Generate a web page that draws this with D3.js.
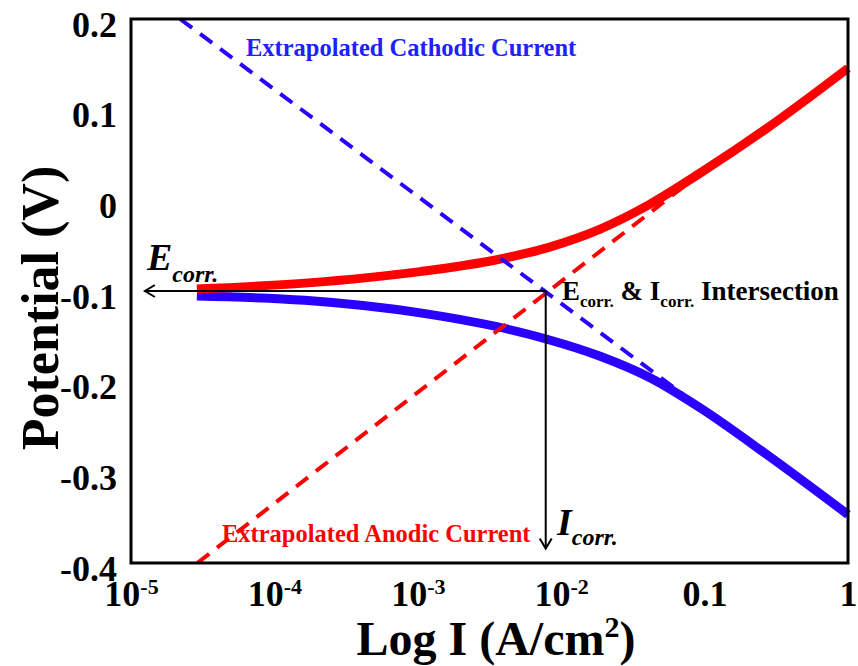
<!DOCTYPE html>
<html>
<head>
<meta charset="utf-8">
<script src="https://cdn.jsdelivr.net/npm/d3@7"></script>
<style>
  html, body { margin: 0; padding: 0; background: #fff; }
  svg { display: block; }
  text { font-family: "Liberation Serif", "Times New Roman", serif; font-weight: bold; }
</style>
</head>
<body>
<svg id="chart" width="858" height="666"></svg>
<script>
// Axis ticks
const currentTicks = [1e-5, 1e-4, 1e-3, 1e-2, 0.1, 1];
const currentTickBase = ["10", "10", "10", "10", "0.1", "1"];
const currentTickExp = ["-5", "-4", "-3", "-2", "", ""];
const potentialTicks = [0.2, 0.1, 0, -0.1, -0.2, -0.3, -0.4];
const potentialTickLabels = ["0.2", "0.1", "0", "-0.1", "-0.2", "-0.3", "-0.4"];

// Measured anodic branch (A/cm², V)
const anodicCurrent = [2.88e-5, 1.63e-4, 1.04e-3, 3.56e-3, 7.96e-3, 1.21e-2, 1.87e-2, 4.16e-2, 9.29e-2, 0.272, 1.0];
const anodicPotential = [-0.0978, -0.0913, -0.0786, -0.0655, -0.0525, -0.0433, -0.0317, -0.0042, 0.0300, 0.0795, 0.1457];

// Measured cathodic branch (A/cm², V)
const cathodicCurrent = [2.88e-5, 1.63e-4, 1.04e-3, 3.56e-3, 7.96e-3, 1.87e-2, 4.16e-2, 9.29e-2, 0.272, 1.0];
const cathodicPotential = [-0.1055, -0.1102, -0.1241, -0.1394, -0.1532, -0.1720, -0.1957, -0.2288, -0.2805, -0.3466];

// Tafel extrapolations
const anodicTafelCurrent = [2.9e-5, 0.1];
const anodicTafelPotential = [-0.4, 0.033];
const cathodicTafelCurrent = [2.2e-5, 0.0706];
const cathodicTafelPotential = [0.2, -0.214];

// Corrosion point and annotation arrow tips
const Ecorr = -0.1;
const Icorr = 7.8e-3;
const ecorrArrowCurrent = 1.25e-5;
const icorrArrowPotential = -0.384;

const RED = "#ff0000";
const BLUE = "#2a00ff";
const BLUE_TEXT = "#2020ff";
const SERIF = '"Liberation Serif", "Times New Roman", serif';

const svg = d3.select("#chart");

const x = d3.scaleLog().domain([1e-5, 1]).range([131, 848]);
const y = d3.scaleLinear().domain([0.2, -0.4]).range([19, 563]);

const zip = (a, b) => a.map((v, i) => [v, b[i]]);
const line = d3.line().x(d => x(d[0])).y(d => y(d[1])).curve(d3.curveMonotoneX);
const straight = d3.line().x(d => x(d[0])).y(d => y(d[1]));

// Y axis labels
const yAxis = d3.axisLeft(y).tickValues(potentialTicks)
  .tickFormat((d, i) => potentialTickLabels[i]).tickSize(0).tickPadding(14);
const gy = svg.append("g").attr("transform", `translate(${x(1e-5)},0)`).call(yAxis);
gy.select(".domain").remove();
gy.selectAll("text").attr("font-size", 36).attr("fill", "#000").attr("dy", "0.48em")
  .style("font-family", SERIF).style("font-weight", "bold");

// X axis labels with superscript exponents
const xAxis = d3.axisBottom(x).tickValues(currentTicks).tickFormat(() => "").tickSize(0);
const gx = svg.append("g").attr("transform", `translate(0,${y(-0.4)})`).call(xAxis);
gx.select(".domain").remove();
gx.selectAll(".tick text").each(function(d, i) {
  const t = d3.select(this).attr("y", 43).attr("dy", 0).attr("fill", "#000")
    .attr("font-size", 36)
    .style("font-family", SERIF).style("font-weight", "bold");
  t.text(null);
  t.append("tspan").text(currentTickBase[i]);
  if (currentTickExp[i]) {
    t.append("tspan").attr("font-size", 22).attr("dy", -12).text(currentTickExp[i]);
  }
});

// Measured curves
svg.append("path").datum(zip(cathodicCurrent, cathodicPotential))
  .attr("d", line).attr("fill", "none").attr("stroke", BLUE).attr("stroke-width", 9);
svg.append("path").datum(zip(anodicCurrent, anodicPotential))
  .attr("d", line).attr("fill", "none").attr("stroke", RED).attr("stroke-width", 9);

// Tafel extrapolations
svg.append("path").datum(zip(cathodicTafelCurrent, cathodicTafelPotential))
  .attr("d", straight).attr("fill", "none").attr("stroke", BLUE)
  .attr("stroke-width", 4).attr("stroke-dasharray", "15,10");
svg.append("path").datum(zip(anodicTafelCurrent, anodicTafelPotential))
  .attr("d", straight).attr("fill", "none").attr("stroke", RED)
  .attr("stroke-width", 4).attr("stroke-dasharray", "15,10");

// Plot frame
svg.append("rect")
  .attr("x", x(1e-5)).attr("y", y(0.2))
  .attr("width", x(1) - x(1e-5)).attr("height", y(-0.4) - y(0.2))
  .attr("fill", "none").attr("stroke", "#000").attr("stroke-width", 3);

// Ecorr / Icorr arrows
const ax = x(Icorr), ay = y(Ecorr);
const ex = x(ecorrArrowCurrent), iy = y(icorrArrowPotential);
const arrows = svg.append("g").attr("stroke", "#000").attr("stroke-width", 2).attr("fill", "none");
arrows.append("line").attr("x1", ax).attr("y1", ay).attr("x2", ex).attr("y2", ay);
arrows.append("path").attr("d", `M${ex + 10},${ay - 6}L${ex},${ay}L${ex + 10},${ay + 6}`);
arrows.append("line").attr("x1", ax).attr("y1", ay).attr("x2", ax).attr("y2", iy);
arrows.append("path").attr("d", `M${ax - 6},${iy - 10}L${ax},${iy}L${ax + 6},${iy - 10}`);

// Annotations
svg.append("text").attr("x", 246).attr("y", 56).attr("font-size", 24.5).attr("fill", BLUE_TEXT)
  .text("Extrapolated Cathodic Current");
svg.append("text").attr("x", 222).attr("y", 542).attr("font-size", 24.5).attr("fill", RED)
  .text("Extrapolated Anodic Current");

const ecorrLabel = svg.append("text").attr("x", 147).attr("y", 270).attr("font-style", "italic");
ecorrLabel.append("tspan").attr("font-size", 38).text("E");
ecorrLabel.append("tspan").attr("font-size", 24).attr("dy", 12).text("corr.");

const icorrLabel = svg.append("text").attr("x", 557).attr("y", 535).attr("font-style", "italic");
icorrLabel.append("tspan").attr("font-size", 38).text("I");
icorrLabel.append("tspan").attr("font-size", 24).attr("dy", 10).text("corr.");

const interLabel = svg.append("text").attr("x", 562).attr("y", 300).attr("font-size", 27);
interLabel.append("tspan").text("E");
interLabel.append("tspan").attr("font-size", 17).attr("dy", 7).text("corr.");
interLabel.append("tspan").attr("dy", -7).text(" & I");
interLabel.append("tspan").attr("font-size", 17).attr("dy", 7).text("corr.");
interLabel.append("tspan").attr("dy", -7).text(" Intersection");

// Axis titles
const xTitle = svg.append("text").attr("x", 496).attr("y", 655).attr("font-size", 48).attr("text-anchor", "middle");
xTitle.append("tspan").text("Log I (A/cm");
xTitle.append("tspan").attr("font-size", 30).attr("dy", -18).text("2");
xTitle.append("tspan").attr("dy", 18).text(")");

svg.append("text").attr("transform", "translate(58,308) rotate(-90)")
  .attr("font-size", 52).attr("text-anchor", "middle").text("Potential (V)");
</script>
</body>
</html>
